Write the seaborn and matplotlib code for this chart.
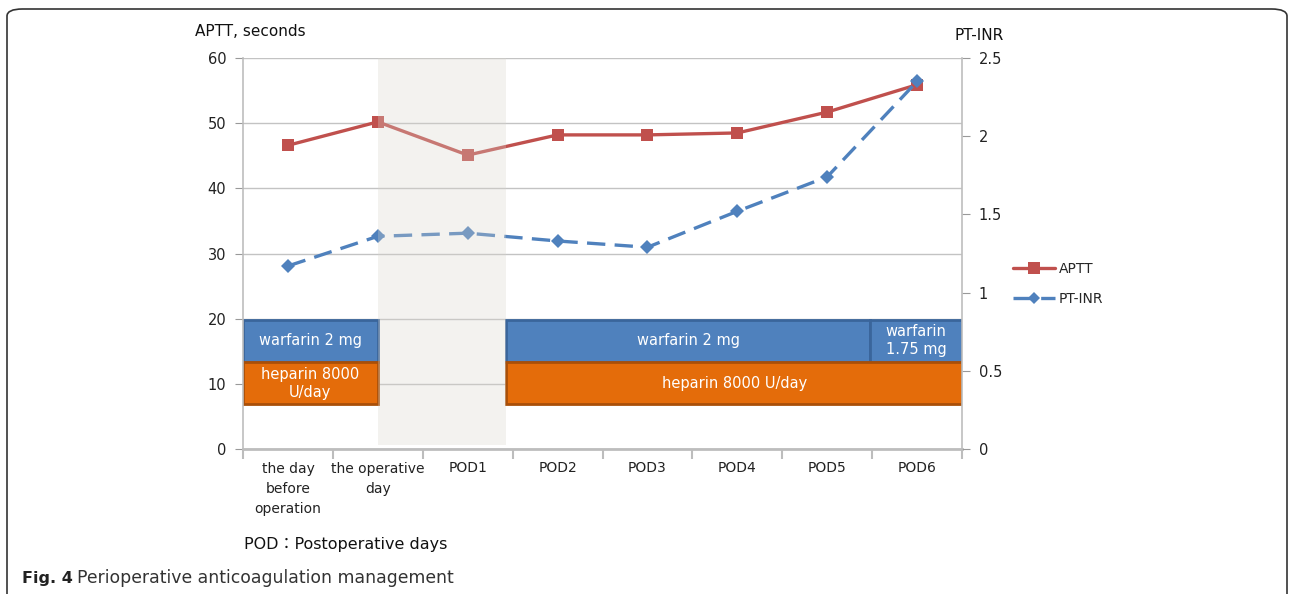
import matplotlib
matplotlib.use("Agg")
import matplotlib.pyplot as plt
import seaborn as sns
import pandas as pd
from matplotlib.patches import Rectangle, FancyBboxPatch
from matplotlib.lines import Line2D

# ---------------- data ----------------
days = ["the day\nbefore\noperation", "the operative\nday", "POD1", "POD2",
        "POD3", "POD4", "POD5", "POD6"]
aptt = [46.6, 50.2, 45.1, 48.2, 48.2, 48.5, 51.7, 55.9]
pt_inr = [1.17, 1.36, 1.38, 1.33, 1.29, 1.52, 1.74, 2.35]

# treatment blocks: (label, start, end) in category units
warfarin_blocks = [("warfarin 2 mg", -0.5, 1.0),
                   ("warfarin 2 mg", 2.43, 6.48),
                   ("warfarin\n1.75 mg", 6.48, 7.5)]
heparin_blocks = [("heparin 8000\nU/day", -0.5, 1.0),
                  ("heparin 8000 U/day", 2.43, 7.5)]
warfarin_range = (13.35, 19.8)
heparin_range = (6.9, 13.35)
shade_span = (1.0, 2.43)

left_ticks = [0, 10, 20, 30, 40, 50, 60]
right_ticks = [0, 0.5, 1, 1.5, 2, 2.5]
right_labels = ["0", "0.5", "1", "1.5", "2", "2.5"]

df = pd.DataFrame({"day": days, "APTT": aptt, "PT-INR": pt_inr})

# ---------------- style ----------------
sns.set_style("white")
plt.rcParams["font.family"] = ["DejaVu Sans", "Noto Sans CJK JP"]

RED = "#c0504d"
BLUE = "#4f81bd"
ORANGE = "#e46c0a"
GRID = "#c3c3c3"

fig = plt.figure(figsize=(12.9, 5.94), dpi=100)
W, H = 1290, 594
ax = fig.add_axes([243 / W, 1 - 449 / H, (962 - 243) / W, (449 - 58) / H])

ax.set_ylim(0, 60)
ax.set_xlim(-0.5, 7.5)
ax.set_yticks(left_ticks)
ax.yaxis.grid(True, color=GRID, lw=1)
ax.set_axisbelow(True)

# treatment boxes
for label, x0, x1 in warfarin_blocks:
    ax.add_patch(Rectangle((x0, warfarin_range[0]), x1 - x0,
                           warfarin_range[1] - warfarin_range[0],
                           facecolor=BLUE, edgecolor="#3a659b", lw=2, zorder=2))
    ax.text((x0 + x1) / 2, sum(warfarin_range) / 2, label, color="white",
            ha="center", va="center", fontsize=10.5, linespacing=1.25, zorder=3)
for label, x0, x1 in heparin_blocks:
    ax.add_patch(Rectangle((x0, heparin_range[0]), x1 - x0,
                           heparin_range[1] - heparin_range[0],
                           facecolor=ORANGE, edgecolor="#a94f08", lw=2, zorder=2))
    ax.text((x0 + x1) / 2, sum(heparin_range) / 2, label, color="white",
            ha="center", va="center", fontsize=10.5, linespacing=1.25, zorder=3)

# APTT line
sns.lineplot(data=df, x="day", y="APTT", ax=ax, color=RED, lw=2.4,
             marker="s", markersize=9, markeredgewidth=0, sort=False, zorder=4)

ax2 = ax.twinx()
sns.lineplot(data=df, x="day", y="PT-INR", ax=ax2, color=BLUE, lw=2.4,
             marker="D", markersize=7, markeredgewidth=0, sort=False, zorder=4,
             linestyle=(0, (5.5, 2.8)))
ax2.set_ylim(0, 2.5)
ax2.set_yticks(right_ticks)
ax2.set_yticklabels(right_labels)
ax2.set_xlim(-0.5, 7.5)

# shaded (operation) region on top, semi-transparent
ax2.axvspan(shade_span[0], shade_span[1], ymin=0.01, ymax=1,
            color="#d8d5cc", alpha=0.3, lw=0, zorder=10)

# axes styling
for a in (ax, ax2):
    a.set_xlabel("")
    a.set_ylabel("")
    a.spines["top"].set_visible(False)
for side in ("left", "right", "bottom"):
    ax.spines[side].set_color("#bdbdbd")
    ax2.spines[side].set_color("#bdbdbd")
ax.spines["right"].set_visible(False)
ax2.spines["left"].set_visible(False)
ax2.spines["bottom"].set_visible(False)
ax.spines["bottom"].set_linewidth(2)
ax.spines["left"].set_linewidth(1.2)
ax2.spines["right"].set_linewidth(1.2)

ax.tick_params(axis="y", which="major", length=6, color="#999999",
               labelsize=10.5, labelcolor="#222222", pad=6, left=True)
ax2.tick_params(axis="y", which="major", length=6, color="#999999",
                labelsize=10.5, labelcolor="#222222", pad=6, right=True)

ax.set_xticks(range(len(days)))
ax.set_xticklabels(days, fontsize=10, color="#222222", linespacing=1.55)
ax.set_xticks([i - 0.5 for i in range(len(days) + 1)], minor=True)
ax.tick_params(axis="x", which="major", length=0, pad=9)
ax.tick_params(axis="x", which="minor", length=7, color="#bdbdbd", width=1.5,
               bottom=True)
ax2.tick_params(axis="x", which="both", length=0, labelbottom=False)

for a in (ax, ax2):
    if a.get_legend():
        a.get_legend().remove()

# legend
handles = [Line2D([0], [0], color=RED, lw=2.4, marker="s", markersize=8,
                  markeredgewidth=0),
           Line2D([0], [0], color=BLUE, lw=2.4, marker="D", markersize=6,
                  markeredgewidth=0, linestyle=(0, (5.5, 2.8)))]
fig.legend(handles, ["APTT", "PT-INR"], loc="center left",
           bbox_to_anchor=(1013 / W, 1 - 284 / H),
           frameon=False, fontsize=10, handlelength=3.0, handletextpad=0.3,
           labelspacing=1.2, borderaxespad=0, borderpad=0)

# axis titles and notes
fig.text(195 / W, 1 - 32 / H, "APTT, seconds", fontsize=11, va="center",
         ha="left", color="#111111")
fig.text(955 / W, 1 - 35 / H, "PT-INR", fontsize=11, va="center",
         ha="left", color="#111111")
fig.text(244 / W, 1 - 544 / H, "POD\uff1aPostoperative days", fontsize=11.5,
         va="center", ha="left", color="#111111")
fig.text(22 / W, 1 - 578 / H, "Fig. 4", fontsize=11.5, fontweight="bold",
         va="center", ha="left", color="#222222")
fig.text(77 / W, 1 - 578 / H, "Perioperative anticoagulation management",
         fontsize=12.4, va="center", ha="left", color="#333333")

# outer border (rounded)
border = FancyBboxPatch((7 / W, -0.1), (1287 - 7) / W, 1 - 9 / H + 0.1,
                        boxstyle="round,pad=0,rounding_size=0.012",
                        transform=fig.transFigure, fill=False,
                        edgecolor="#333333", lw=1.2, clip_on=False)
fig.patches.append(border)

fig.savefig("out.png", dpi=100)
